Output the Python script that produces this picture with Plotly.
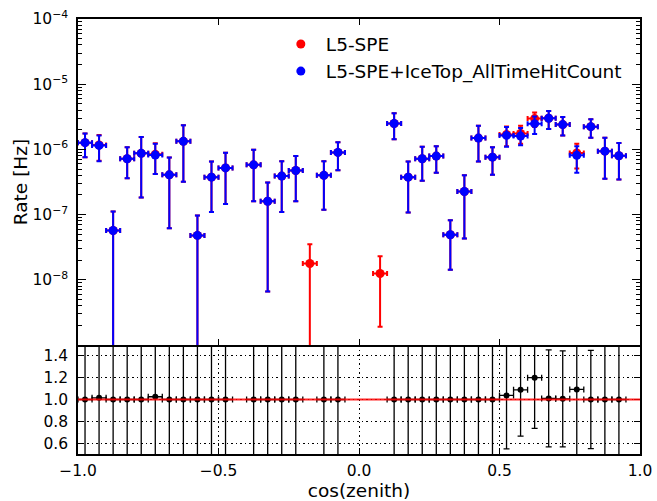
import plotly.graph_objects as go
from plotly.subplots import make_subplots

# ---------------- data ----------------
x_centers = [-0.975, -0.925, -0.875, -0.825, -0.775, -0.725, -0.675, -0.625, -0.575, -0.525,
             -0.475, -0.425, -0.375, -0.325, -0.275, -0.225, -0.175, -0.125, -0.075, -0.025,
             0.025, 0.075, 0.125, 0.175, 0.225, 0.275, 0.325, 0.375, 0.425, 0.475,
             0.525, 0.575, 0.625, 0.675, 0.725, 0.775, 0.825, 0.875, 0.925, 0.975]
x_halfwidth = 0.025

# L5-SPE+IceTop_AllTimeHitCount (blue): value, upper bound, lower bound
blue_val = [1.27e-6, 1.15e-6, 5.7e-8, 7.2e-7, 8.7e-7, 8.2e-7, 4.07e-7, 1.33e-6, 4.8e-8, 3.75e-7,
            5.2e-7, None, 5.8e-7, 1.6e-7, 3.9e-7, 4.75e-7, None, 4.0e-7, 9.0e-7, None,
            None, None, 2.5e-6, 3.75e-7, 7.2e-7, 7.9e-7, 4.9e-8, 2.26e-7, 1.49e-6, 7.6e-7,
            1.64e-6, 1.6e-6, 2.48e-6, 3.0e-6, 2.4e-6, 8.1e-7, 2.23e-6, 9.4e-7, 8.0e-7, None]
blue_hi = [1.75e-6, 1.64e-6, 1.12e-7, 1.08e-6, 1.55e-6, 1.22e-6, 7.5e-7, 2.34e-6, 9.7e-8, 6.5e-7,
           8.9e-7, None, 9.9e-7, 3.1e-7, 6.6e-7, 7.9e-7, None, 6.6e-7, 1.29e-6, None,
           None, None, 3.6e-6, 6.5e-7, 1.1e-6, 1.12e-6, 8.2e-8, 4.0e-7, 2.3e-6, 1.08e-6,
           2.2e-6, 2.13e-6, 3.2e-6, 3.88e-6, 3.14e-6, 1.12e-6, 2.9e-6, 1.51e-6, 1.25e-6, None]
blue_lo = [7.6e-7, 6.6e-7, 0.0, 3.6e-7, 1.83e-7, 4.2e-7, 6.2e-8, 3.2e-7, 0.0, 1.1e-7,
           1.45e-7, None, 1.6e-7, 6.6e-9, 1.1e-7, 1.6e-7, None, 1.19e-7, 4.8e-7, None,
           None, None, 1.43e-6, 1.08e-7, 3.3e-7, 4.4e-7, 1.43e-8, 4.3e-8, 6.5e-7, 4.1e-7,
           1.1e-6, 1.16e-6, 1.72e-6, 2.05e-6, 1.64e-6, 4.4e-7, 1.51e-6, 3.54e-7, 3.45e-7, None]

# L5-SPE (red)
red_val = [1.27e-6, 1.17e-6, 5.7e-8, 7.2e-7, 8.7e-7, 8.4e-7, 4.07e-7, 1.33e-6, 4.8e-8, 3.75e-7,
           5.2e-7, None, 5.8e-7, 1.6e-7, 3.9e-7, 4.75e-7, 1.78e-8, 4.0e-7, 9.0e-7, None,
           None, 1.25e-8, 2.5e-6, 3.75e-7, 7.2e-7, 7.9e-7, 4.9e-8, 2.26e-7, 1.49e-6, 7.6e-7,
           1.69e-6, 1.75e-6, 2.97e-6, 3.0e-6, 2.4e-6, 8.8e-7, 2.23e-6, 9.4e-7, 8.0e-7, None]
red_hi = [1.75e-6, 1.66e-6, 1.12e-7, 1.08e-6, 1.55e-6, 1.24e-6, 7.5e-7, 2.34e-6, 9.7e-8, 6.5e-7,
          8.9e-7, None, 9.9e-7, 3.1e-7, 6.6e-7, 7.9e-7, 3.5e-8, 6.6e-7, 1.29e-6, None,
          None, 2.3e-8, 3.6e-6, 6.5e-7, 1.1e-6, 1.12e-6, 8.2e-8, 4.0e-7, 2.3e-6, 1.08e-6,
          2.25e-6, 2.3e-6, 3.67e-6, 3.88e-6, 3.14e-6, 1.22e-6, 2.9e-6, 1.51e-6, 1.25e-6, None]
red_lo = [7.6e-7, 6.7e-7, 0.0, 3.6e-7, 1.83e-7, 4.2e-7, 6.2e-8, 3.2e-7, 0.0, 1.1e-7,
          1.45e-7, None, 1.6e-7, 6.6e-9, 1.1e-7, 1.6e-7, 0.0, 1.19e-7, 4.8e-7, None,
          None, 1.9e-9, 1.43e-6, 1.08e-7, 3.3e-7, 4.4e-7, 1.43e-8, 4.3e-8, 6.5e-7, 4.1e-7,
          1.12e-6, 1.22e-6, 2.2e-6, 2.05e-6, 1.64e-6, 5.1e-7, 1.51e-6, 3.54e-7, 3.45e-7, None]

# ratio panel (L5-SPE / L5-SPE+IceTop)
ratio_val = [1.0, 1.015, 1.0, 1.0, 1.0, 1.025, 1.0, 1.0, 1.0, 1.0,
             1.0, None, 1.0, 1.0, 1.0, 1.0, None, 1.0, 1.0, None,
             None, None, 1.0, 1.0, 1.0, 1.0, 1.0, 1.0, 1.0, 1.0,
             1.037, 1.089, 1.2, 1.01, 1.006, 1.092, 1.0, 1.0, 1.0, None]
ratio_err = [1.2, 1.1, 1.4, 1.1, 1.3, 1.0, 1.4, 1.2, 1.4, 1.2,
             1.2, None, 1.2, 1.4, 1.2, 1.2, None, 1.2, 1.0, None,
             None, None, 1.0, 1.2, 1.0, 1.0, 1.4, 1.4, 1.0, 1.0,
             0.49, 0.425, 0.465, 0.445, 0.44, 0.7, 0.45, 0.8, 0.9, None]

legend_names = ["L5-SPE", "L5-SPE+IceTop_AllTimeHitCount"]
y_tick_vals = [1e-8, 1e-7, 1e-6, 1e-5, 1e-4]
y_tick_text = ["10<sup>\u22128</sup>", "10<sup>\u22127</sup>", "10<sup>\u22126</sup>",
               "10<sup>\u22125</sup>", "10<sup>\u22124</sup>"]
ratio_ticks = [0.6, 0.8, 1.0, 1.2, 1.4]
x_ticks = [-1.0, -0.5, 0.0, 0.5, 1.0]


def errs(val, hi, lo):
    plus, minus = [], []
    for v, h, l in zip(val, hi, lo):
        if v is None:
            plus.append(None); minus.append(None)
        else:
            plus.append(h - v); minus.append(v - l)
    return plus, minus


FONT = "DejaVu Sans"
fig = make_subplots(rows=2, cols=1, shared_xaxes=False, vertical_spacing=0)

for name, val, hi, lo, col in [(legend_names[0], red_val, red_hi, red_lo, "#ff0000"),
                               (legend_names[1], blue_val, blue_hi, blue_lo, "#0000ff")]:
    p, m = errs(val, hi, lo)
    fig.add_trace(go.Scatter(
        x=x_centers, y=val, mode="markers", name=name,
        marker=dict(color=col, size=9, line=dict(width=0)),
        error_y=dict(type="data", symmetric=False, array=p, arrayminus=m,
                     color=col, thickness=2, width=2.5),
        error_x=dict(type="constant", value=x_halfwidth, color=col, thickness=2, width=2.5),
    ), row=1, col=1)

fig.add_trace(go.Scatter(
    x=x_centers, y=ratio_val, mode="markers", showlegend=False,
    marker=dict(color="black", size=6),
    error_y=dict(type="data", array=ratio_err, color="black", thickness=1.3, width=3),
    error_x=dict(type="constant", value=x_halfwidth, color="black", thickness=1.3, width=3),
), row=2, col=1)

fig.add_shape(type="line", xref="x2 domain", yref="y2", x0=0, x1=1, y0=1.0, y1=1.0,
              line=dict(color="rgba(255,0,0,0.85)", width=2))

split = 109 / 435
axis_common = dict(showline=True, linecolor="black", linewidth=1.5,
                   ticks="inside", tickcolor="black", zeroline=False, automargin=False)
GRID_DASH = "1.5px,3px"

fig.update_xaxes(range=[-1, 1], tickvals=x_ticks, showticklabels=False, ticklen=6, mirror="ticks",
                 showgrid=False, anchor="y", domain=[0, 1], row=1, col=1, **axis_common)
fig.update_xaxes(range=[-1, 1], tickvals=x_ticks, ticktext=["\u22121.0", "\u22120.5", "0.0", "0.5", "1.0"],
                 ticklen=6, mirror=False, showgrid=True, gridcolor="black", griddash=GRID_DASH, gridwidth=1,
                 tickfont=dict(family=FONT, size=15.5, color="black"), ticklabelstandoff=2,
                 title=dict(text="cos(zenith)", font=dict(family=FONT, size=18.5, color="black"),
                            standoff=4),
                 row=2, col=1, **axis_common)

minor_vals = [m * 10.0 ** e for e in range(-9, -4) for m in range(2, 10)]
fig.update_yaxes(type="log", range=[-9, -4], tickvals=y_tick_vals, ticktext=y_tick_text,
                 ticklen=8, showgrid=False, domain=[split, 1], mirror="ticks",
                 minor=dict(tickvals=minor_vals, ticks="inside", ticklen=4, tickcolor="black", showgrid=False),
                 tickfont=dict(family=FONT, size=15.5, color="black"), ticklabelstandoff=5,
                 title=dict(text="Rate [Hz]", font=dict(family=FONT, size=18.5, color="black"),
                            standoff=0),
                 row=1, col=1, **axis_common)
fig.update_yaxes(range=[0.5, 1.5], tickvals=ratio_ticks, ticktext=["0.6", "0.8", "1.0", "1.2", "1.4"],
                 ticklen=6, mirror="ticks", showgrid=True, gridcolor="black", griddash=GRID_DASH, gridwidth=1,
                 domain=[0, split],
                 tickfont=dict(family=FONT, size=15.5, color="black"), ticklabelstandoff=5,
                 row=2, col=1, **axis_common)

fig.update_layout(
    width=657, height=501,
    margin=dict(l=78, r=17, t=19, b=47),
    paper_bgcolor="white", plot_bgcolor="white",
    font=dict(family=FONT, color="black"),
    legend=dict(x=0.352, y=0.985, xanchor="left", yanchor="top", bgcolor="rgba(0,0,0,0)",
                font=dict(family=FONT, size=18.5, color="black"), itemwidth=40),
    showlegend=True,
)

fig.write_html("out.html")
